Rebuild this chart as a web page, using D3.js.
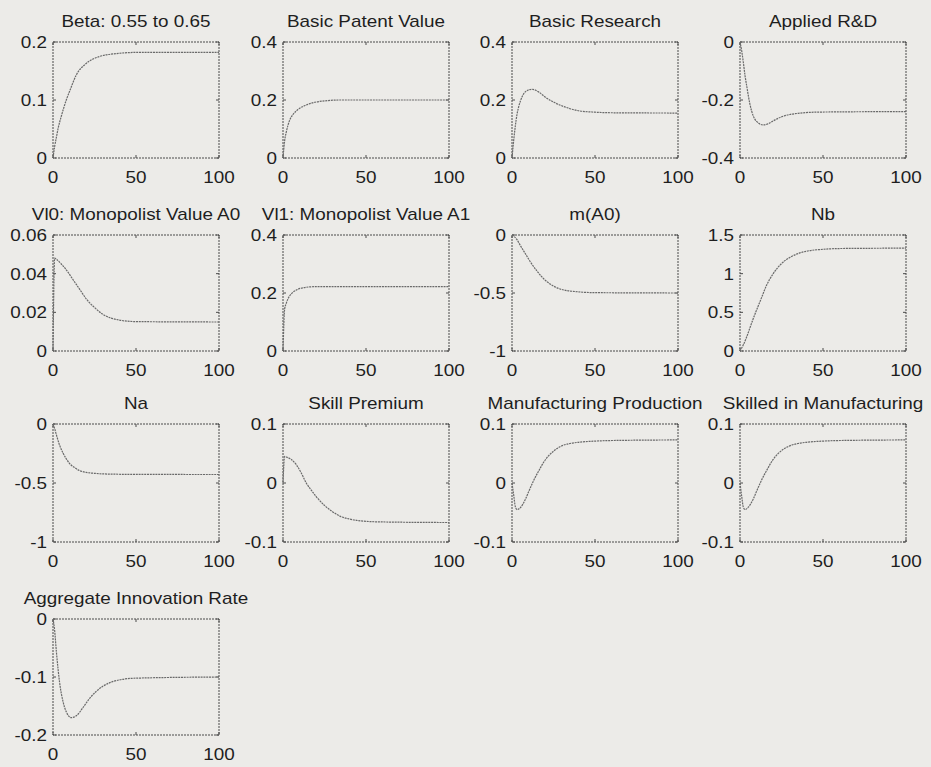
<!DOCTYPE html>
<html>
<head>
<meta charset="utf-8">
<script src="https://cdn.jsdelivr.net/npm/d3@7"></script>
<style>
  html, body { margin: 0; padding: 0; background: #ecebe8; }
  svg { display: block; }
  text { font-family: "Liberation Sans", Arial, Helvetica, sans-serif; fill: #1e1e1e; }
</style>
</head>
<body>
<svg id="chart" width="931" height="767"></svg>
<script>
// Impulse responses over 100 periods, one pair of arrays per panel.
const titles = [
  "Beta: 0.55 to 0.65", "Basic Patent Value", "Basic Research", "Applied R&D",
  "Vl0: Monopolist Value A0", "Vl1: Monopolist Value A1", "m(A0)", "Nb",
  "Na", "Skill Premium", "Manufacturing Production", "Skilled in Manufacturing",
  "Aggregate Innovation Rate"
];

const betaT = [0, 1, 2, 3, 5, 8, 10, 14, 20, 28, 38, 50, 100];
const betaV = [0, 0.02, 0.035, 0.05, 0.072, 0.1, 0.115, 0.143, 0.163, 0.175, 0.18, 0.182, 0.182];

const patentT = [0, 1, 2, 4, 6, 9, 15, 22, 35, 100];
const patentV = [0, 0.06, 0.09, 0.13, 0.15, 0.167, 0.185, 0.195, 0.2, 0.2];

const basicT = [0, 1, 2, 3, 4, 6, 8, 12, 16, 20, 25, 30, 35, 40, 50, 60, 100];
const basicV = [0, 0.06, 0.11, 0.15, 0.176, 0.21, 0.228, 0.237, 0.228, 0.21, 0.193, 0.18, 0.17, 0.163, 0.158, 0.156, 0.155];

const appliedT = [0, 1, 2, 3, 4, 6, 8, 10, 14, 17, 20, 25, 30, 35, 45, 60, 100];
const appliedV = [0, -0.03, -0.07, -0.115, -0.15, -0.215, -0.255, -0.274, -0.286, -0.282, -0.272, -0.258, -0.25, -0.246, -0.242, -0.241, -0.24];

const vl0T = [0, 1, 2, 5, 8, 12, 16, 20, 25, 30, 35, 40, 50, 100];
const vl0V = [0, 0.048, 0.0475, 0.045, 0.042, 0.037, 0.032, 0.027, 0.0225, 0.019, 0.017, 0.016, 0.0152, 0.015];

const vl1T = [0, 1, 2, 3, 5, 8, 12, 20, 100];
const vl1V = [0, 0.145, 0.165, 0.18, 0.197, 0.21, 0.218, 0.222, 0.222];

const mA0T = [0, 3, 5, 8, 11, 15, 20, 25, 30, 40, 50, 100];
const mA0V = [0, -0.04, -0.09, -0.16, -0.23, -0.31, -0.39, -0.44, -0.47, -0.49, -0.497, -0.5];

const nbT = [0, 2, 4, 6, 8, 10, 13, 16, 20, 25, 30, 35, 40, 50, 60, 100];
const nbV = [0, 0.08, 0.18, 0.3, 0.42, 0.53, 0.69, 0.85, 1.0, 1.13, 1.21, 1.26, 1.29, 1.315, 1.325, 1.33];

const naT = [0, 1, 2, 4, 6, 8, 10, 13, 16, 20, 25, 30, 50, 100];
const naV = [0, -0.04, -0.09, -0.18, -0.245, -0.295, -0.335, -0.37, -0.395, -0.41, -0.418, -0.423, -0.427, -0.428];

const skillT = [0, 1, 2, 5, 8, 11, 14, 17, 20, 25, 30, 35, 40, 50, 60, 100];
const skillV = [0, 0.045, 0.044, 0.04, 0.031, 0.017, 0, -0.012, -0.023, -0.038, -0.049, -0.057, -0.061, -0.065, -0.066, -0.067];

const manufT = [0, 1, 2, 3, 5, 8, 10, 13, 16, 20, 25, 30, 35, 40, 50, 60, 100];
const manufV = [0, -0.02, -0.04, -0.045, -0.042, -0.028, -0.015, 0.004, 0.02, 0.039, 0.054, 0.063, 0.067, 0.069, 0.071, 0.072, 0.073];

const skilledT = [0, 1, 2, 3, 5, 8, 10, 13, 16, 20, 25, 30, 35, 40, 50, 60, 100];
const skilledV = [0, -0.022, -0.041, -0.045, -0.041, -0.027, -0.014, 0.005, 0.021, 0.04, 0.055, 0.063, 0.067, 0.069, 0.071, 0.072, 0.073];

const innovT = [0, 1, 2, 3, 4, 6, 8, 11, 14, 18, 22, 26, 30, 35, 40, 50, 100];
const innovV = [0, -0.02, -0.055, -0.085, -0.11, -0.142, -0.16, -0.17, -0.167, -0.153, -0.137, -0.125, -0.116, -0.109, -0.105, -0.102, -0.1];

const seriesT = [betaT, patentT, basicT, appliedT, vl0T, vl1T, mA0T, nbT, naT, skillT, manufT, skilledT, innovT];
const seriesV = [betaV, patentV, basicV, appliedV, vl0V, vl1V, mA0V, nbV, naV, skillV, manufV, skilledV, innovV];

// Axis limits and tick labels of each panel
const yDomains = [
  [0, 0.2], [0, 0.4], [0, 0.4], [-0.4, 0],
  [0, 0.06], [0, 0.4], [-1, 0], [0, 1.5],
  [-1, 0], [-0.1, 0.1], [-0.1, 0.1], [-0.1, 0.1],
  [-0.2, 0]
];
const yTicks = [
  ["0", "0.1", "0.2"], ["0", "0.2", "0.4"], ["0", "0.2", "0.4"], ["-0.4", "-0.2", "0"],
  ["0", "0.02", "0.04", "0.06"], ["0", "0.2", "0.4"], ["-1", "-0.5", "0"], ["0", "0.5", "1", "1.5"],
  ["-1", "-0.5", "0"], ["-0.1", "0", "0.1"], ["-0.1", "0", "0.1"], ["-0.1", "0", "0.1"],
  ["-0.2", "-0.1", "0"]
];
const xTicks = ["0", "50", "100"];

// Panel grid geometry
const colLeft = [53, 283, 512, 740];
const rowTop = [42, 235, 424, 619];
const rowHeight = [116, 116, 118, 116];
const panelW = 166;
const stretch = 1.18;   // lettering is slightly wide
const fontSize = 16;

const svg = d3.select("#chart");
const ink = "#4a4a4a";

function label(g, x, y, txt, anchor) {
  g.append("text")
    .attr("transform", `translate(${x},${y}) scale(${stretch},1)`)
    .attr("text-anchor", anchor)
    .attr("font-size", fontSize)
    .text(txt);
}

titles.forEach((title, i) => {
  const r = Math.floor(i / 4), c = i % 4;
  const left = colLeft[c], top = rowTop[r], h = rowHeight[r];
  const g = svg.append("g").attr("transform", `translate(${left},${top})`);

  const x = d3.scaleLinear().domain([0, 100]).range([0, panelW]);
  const y = d3.scaleLinear().domain(yDomains[i]).range([h, 0]);

  // frame
  g.append("rect")
    .attr("x", 0).attr("y", 0).attr("width", panelW).attr("height", h)
    .attr("fill", "none").attr("stroke", ink).attr("stroke-width", 1)
    .attr("stroke-dasharray", "2,1");

  // inward ticks on all four sides
  const xVals = xTicks.map(Number);
  const yVals = yTicks[i].map(Number);
  const tl = 3;
  xVals.forEach(v => {
    g.append("line").attr("x1", x(v)).attr("x2", x(v)).attr("y1", h).attr("y2", h - tl).attr("stroke", ink);
    g.append("line").attr("x1", x(v)).attr("x2", x(v)).attr("y1", 0).attr("y2", tl).attr("stroke", ink);
  });
  yVals.forEach(v => {
    g.append("line").attr("x1", 0).attr("x2", tl).attr("y1", y(v)).attr("y2", y(v)).attr("stroke", ink);
    g.append("line").attr("x1", panelW).attr("x2", panelW - tl).attr("y1", y(v)).attr("y2", y(v)).attr("stroke", ink);
  });

  // tick labels
  xTicks.forEach(d => label(g, x(+d), h + 25, d, "middle"));
  yTicks[i].forEach(d => label(g, -6, y(+d) + 6, d, "end"));

  // title
  label(g, panelW / 2, -15, title, "middle");

  // response path
  const pts = seriesT[i].map((t, k) => [t, seriesV[i][k]]);
  const line = d3.line().x(d => x(d[0])).y(d => y(d[1])).curve(d3.curveMonotoneX);
  g.append("path").datum(pts)
    .attr("d", line)
    .attr("fill", "none").attr("stroke", "#6a6a6a").attr("stroke-width", 1.2)
    .attr("stroke-dasharray", "2,0.8");
});
</script>
</body>
</html>
